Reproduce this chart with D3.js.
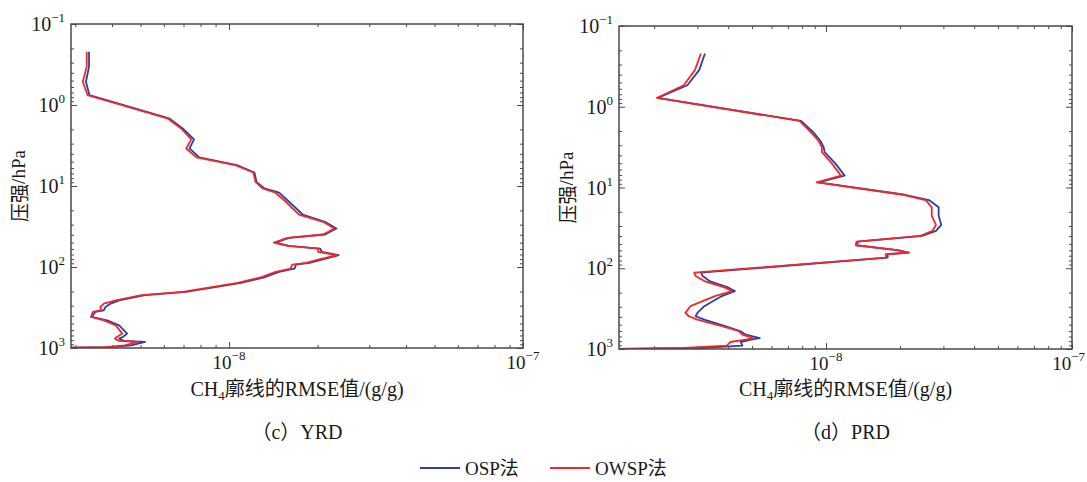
<!DOCTYPE html>
<html><head><meta charset="utf-8">
<script src="https://cdn.jsdelivr.net/npm/d3@7"></script>
<style>
body{margin:0;background:#fff}
svg{display:block}
text{font-family:'Liberation Serif','Times New Roman',serif;fill:#1a1a1a}
.cjk{font-family:'Noto Sans CJK SC','Noto Sans CJK JP',sans-serif}
</style>
</head><body>
<svg id="chart" width="1087" height="482"></svg>
<script>
// ---- data ----
const pressureYRD = [0.22,0.336,0.516,0.753,1.46,1.95,2.66,3.44,4.44,5.53,6.81,8.89,10.7,12.1,15.0,22.5,27.7,33.5,39.7,43.7,49.9,54.8,59.2,65.2,71.6,80.9,89.1,93.3,104.7,115,133,157,203,223,258,283,311,342,359,414,455,525,665,731,767,819,843,927,973,1000];
const ospYRD = [3.34e-9,3.34e-9,3.26e-9,3.35e-9,6.25e-9,6.96e-9,7.60e-9,7.34e-9,7.92e-9,1.064e-8,1.22e-8,1.24e-8,1.32e-8,1.48e-8,1.58e-8,1.78e-8,2.12e-8,2.32e-8,2.12e-8,1.60e-8,1.44e-8,1.60e-8,2.04e-8,2.07e-8,2.36e-8,2.07e-8,1.88e-8,1.69e-8,1.67e-8,1.48e-8,1.33e-8,1.10e-8,7.15e-9,5.18e-9,4.23e-9,3.96e-9,3.80e-9,3.75e-9,3.51e-9,3.41e-9,3.85e-9,4.23e-9,4.50e-9,4.35e-9,4.23e-9,4.41e-9,5.18e-9,4.65e-9,3.96e-9,2.6e-9];
const owspYRD = [3.28e-9,3.28e-9,3.18e-9,3.30e-9,6.17e-9,6.87e-9,7.44e-9,7.15e-9,7.75e-9,1.05e-8,1.21e-8,1.23e-8,1.30e-8,1.44e-8,1.54e-8,1.73e-8,2.09e-8,2.28e-8,2.09e-8,1.58e-8,1.42e-8,1.58e-8,2.01e-8,2.01e-8,2.33e-8,2.01e-8,1.83e-8,1.64e-8,1.62e-8,1.44e-8,1.29e-8,1.07e-8,6.96e-9,5.04e-9,4.12e-9,3.75e-9,3.65e-9,3.67e-9,3.44e-9,3.39e-9,3.75e-9,4.12e-9,4.33e-9,4.15e-9,4.09e-9,4.23e-9,4.92e-9,4.41e-9,3.80e-9,2.6e-9];

const pressurePRD = [0.219,0.352,0.542,0.778,1.50,2.06,2.62,3.17,3.65,5.10,7.13,8.63,12.3,14.3,17.6,22.4,29.0,34.4,39.7,46.7,51.9,59.8,64.0,67.1,73.8,113.5,124.8,144,174,192,221,295,357,393,432,522,603,664,731,766,819,910,972,1000];
const ospPRD = [3.22e-9,3.05e-9,2.73e-9,2.07e-9,7.92e-9,8.87e-9,9.47e-9,9.78e-9,9.87e-9,1.095e-8,1.19e-8,9.31e-9,2.09e-8,2.62e-8,2.87e-8,2.87e-8,2.94e-8,2.80e-8,2.46e-8,1.35e-8,1.33e-8,1.96e-8,2.16e-8,1.78e-8,1.78e-8,3.10e-9,3.15e-9,3.36e-9,4.02e-9,4.26e-9,3.77e-9,3.20e-9,3.00e-9,2.95e-9,3.20e-9,3.89e-9,4.50e-9,4.72e-9,5.38e-9,4.96e-9,4.50e-9,4.57e-9,3.10e-9,1.3e-9];
const owspPRD = [3.10e-9,2.93e-9,2.64e-9,2.05e-9,7.80e-9,8.67e-9,9.31e-9,9.62e-9,9.62e-9,1.06e-8,1.15e-8,9.16e-9,2.06e-8,2.54e-8,2.69e-8,2.69e-8,2.80e-8,2.71e-8,2.42e-8,1.33e-8,1.32e-8,1.93e-8,2.18e-8,1.75e-8,1.75e-8,2.91e-9,2.95e-9,3.20e-9,3.89e-9,4.15e-9,3.53e-9,2.81e-9,2.68e-9,2.77e-9,3.00e-9,3.77e-9,4.43e-9,4.57e-9,5.04e-9,4.72e-9,4.08e-9,3.95e-9,2.64e-9,1.3e-9];

const yTickValues = [0.1,1,10,100,1000];
const xTickValues = [1e-8,1e-7];
const seriesNames = ["OSP法","OWSP法"];
const seriesColors = ["#2f3f9f","#f0282d"];
const captions = ["（c）YRD","（d）PRD"];
const yTitle = "压强/hPa";
const xTitleMain = "CH", xTitleSub = "4", xTitleRest = "廓线的RMSE值/(g/g)";

// ---- helpers ----
const cjkRe = /[\u3000-\u9fff\uff00-\uffef]/;
function mixedText(sel, str) {
  let runs = [], cur = "", curCjk = null;
  for (const ch of str) {
    const c = cjkRe.test(ch);
    if (curCjk === null || c === curCjk) { cur += ch; curCjk = c; }
    else { runs.push([cur, curCjk]); cur = ch; curCjk = c; }
  }
  if (cur) runs.push([cur, curCjk]);
  runs.forEach(([t, c]) => sel.append("tspan").attr("class", c ? "cjk" : null).text(t));
  return sel;
}
function supText(sel, v) {
  const e = Math.round(Math.log10(v));
  sel.append("tspan").text("10");
  sel.append("tspan").attr("font-size", 13).attr("dy", -9).text(e < 0 ? "\u2212" + Math.abs(e) : String(e));
}
function isMajor(v) { const l = Math.log10(v); return Math.abs(l - Math.round(l)) < 1e-6; }

// ---- layout ----
const W = 1087;
const svg = d3.select("#chart");
const panels = [
  {p: pressureYRD, s: [ospYRD, owspYRD], xd: [2.9e-9, 1e-7], box: {l: 71, r: 523, t: 24, b: 348}, cap: captions[0], id: "c"},
  {p: pressurePRD, s: [ospPRD, owspPRD], xd: [1.44e-9, 1e-7], box: {l: 619, r: 1072, t: 26, b: 349}, cap: captions[1], id: "d"}
];
const axisColor = "#4a4a4a";

panels.forEach(pn => {
  const b = pn.box;
  const x = d3.scaleLog().domain(pn.xd).range([b.l, b.r]);
  const y = d3.scaleLog().domain([0.1, 1000]).range([b.t, b.b]);
  const g = svg.append("g");

  svg.append("clipPath").attr("id", "clip-" + pn.id)
    .append("rect").attr("x", b.l).attr("y", b.t).attr("width", b.r - b.l).attr("height", b.b - b.t);

  const xt = x.ticks().filter(v => v >= pn.xd[0] * 0.9999 && v <= pn.xd[1] * 1.0001);
  const yt = y.ticks();
  const xMinor = xt.filter(v => !isMajor(v)), xMajor = xt.filter(isMajor);
  const yMinor = yt.filter(v => !isMajor(v)), yMajor = yt.filter(isMajor);

  const mk = (gen, vals, size, tr) => {
    const a = g.append("g").attr("transform", tr)
      .call(gen.tickValues(vals).tickSize(size).tickSizeOuter(0).tickFormat(""));
    a.select(".domain").remove();
    a.selectAll("line").attr("stroke", axisColor).attr("stroke-width", 1);
  };
  mk(d3.axisBottom(x), xMinor, -3, `translate(0,${b.b})`);
  mk(d3.axisBottom(x), xMajor, -6, `translate(0,${b.b})`);
  mk(d3.axisTop(x), xMinor, -3, `translate(0,${b.t})`);
  mk(d3.axisTop(x), xMajor, -6, `translate(0,${b.t})`);
  mk(d3.axisLeft(y), yMinor, -3, `translate(${b.l},0)`);
  mk(d3.axisLeft(y), yMajor, -6, `translate(${b.l},0)`);
  mk(d3.axisRight(y), yMinor, -3, `translate(${b.r},0)`);
  mk(d3.axisRight(y), yMajor, -6, `translate(${b.r},0)`);

  // lines
  const line = d3.line().x(d => x(d[0])).y(d => y(d[1]));
  pn.s.forEach((vals, i) => {
    g.append("path")
      .datum(vals.map((v, k) => [v, pn.p[k]]))
      .attr("d", line)
      .attr("clip-path", `url(#clip-${pn.id})`)
      .attr("fill", "none")
      .attr("stroke", seriesColors[i])
      .attr("stroke-width", 1.8)
      .attr("stroke-linejoin", "round");
  });

  // frame
  g.append("rect").attr("x", b.l).attr("y", b.t).attr("width", b.r - b.l).attr("height", b.b - b.t)
    .attr("fill", "none").attr("stroke", axisColor).attr("stroke-width", 1.5);

  // y tick labels
  yTickValues.forEach(v => {
    const t = g.append("text").attr("x", b.l - 6).attr("y", y(v) + 7)
      .attr("text-anchor", "end").attr("font-size", 20);
    supText(t, v);
  });
  // x tick labels (kept inside the page at the right edge)
  xTickValues.forEach(v => {
    const t = g.append("text").attr("x", x(v)).attr("y", b.b + 21)
      .attr("text-anchor", "middle").attr("font-size", 19);
    supText(t, v);
    const w = t.node().getComputedTextLength();
    if (x(v) + w / 2 > W - 2) t.attr("text-anchor", "end").attr("x", W - 2);
  });

  const cx = (b.l + b.r) / 2;
  // y title
  const yt2 = g.append("text").attr("transform", `translate(${b.l - 53},${(b.t + b.b) / 2}) rotate(-90)`)
    .attr("text-anchor", "middle").attr("dominant-baseline", "central").attr("font-size", 19);
  mixedText(yt2, yTitle);
  // x title
  const xtl = g.append("text").attr("x", cx).attr("y", 396).attr("text-anchor", "middle").attr("font-size", 20);
  xtl.append("tspan").text(xTitleMain);
  xtl.append("tspan").attr("font-size", 13).attr("dy", 4).text(xTitleSub);
  const rest = xtl.append("tspan").attr("dy", -4);
  mixedText(rest, xTitleRest);
  // caption
  const cap = g.append("text").attr("x", cx).attr("y", 439).attr("text-anchor", "middle").attr("font-size", 20);
  mixedText(cap, pn.cap);
});

// legend
const legendX = [420, 550];
const lg = svg.append("g");
seriesNames.forEach((name, i) => {
  lg.append("line").attr("x1", legendX[i]).attr("x2", legendX[i] + 40).attr("y1", 468).attr("y2", 468)
    .attr("stroke", seriesColors[i]).attr("stroke-width", 1.8);
  const t = lg.append("text").attr("x", legendX[i] + 45).attr("y", 475).attr("font-size", 19);
  mixedText(t, name);
});
</script>
</body></html>
